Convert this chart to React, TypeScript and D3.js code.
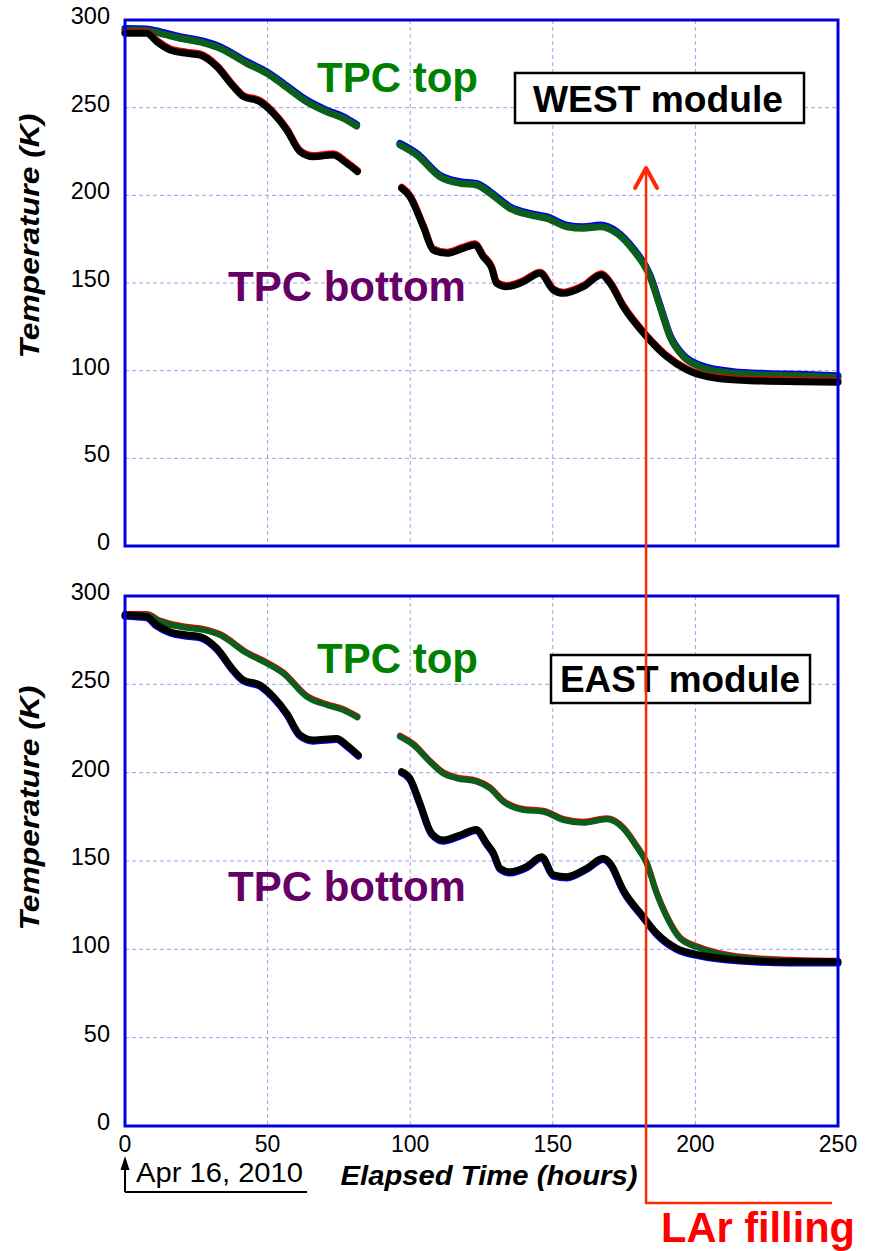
import React from "react";
import * as d3 from "d3";

type Pt = [number, number] | null;

// West module, TPC top (hours, K); null = data gap
const westTop: Pt[] = [
  [0, 294.3], [7.6, 294], [12.3, 292.4], [19.3, 289.6], [27.5, 287], [33.3, 283.9], [42.7, 275.3],
  [49.7, 269.6], [55.5, 263], [63.7, 253.4], [70.7, 247.7], [76.5, 244], [81.2, 239.5],
  null,
  [96.4, 228.7], [102.3, 223], [110.4, 210.6], [117.5, 206.9], [123.3, 205.9], [128, 201.2],
  [135, 192.6], [142, 188.8], [147.9, 186.9], [154.9, 182.1], [160.7, 181.2], [166.6, 182.1],
  [172.4, 178.4], [178.2, 168.8], [184.1, 153.6], [187.6, 136.5], [191.1, 119.4], [195.8, 108],
  [201.6, 102.3], [213.3, 98.5], [225, 97.5], [236.7, 97], [250, 96.2],
];

// West module, TPC bottom
const westBottom: Pt[] = [
  [0, 292.4], [7.6, 292.4], [11.1, 287.7], [15.8, 282.9], [21.6, 281], [26.3, 280], [32.2, 273.4],
  [38, 262], [41.5, 256.3], [47.3, 253.4], [52, 246.8], [56.7, 237.3], [61.4, 224.9], [66, 222],
  [73, 223], [77.7, 218.3], [81.5, 213.5],
  null,
  [97, 204], [99.9, 199.2], [104.6, 182.1], [108.1, 168.8], [112.8, 166.9], [118.6, 169.8],
  [122.7, 171.7], [125.6, 165], [128.6, 158.4], [130.3, 149.8], [133.8, 147.9], [139.7, 150.7],
  [145.5, 155.5], [150.2, 146], [153.7, 144.1], [160.7, 147.9], [167.1, 154.6], [170.1, 149.8],
  [174.7, 136.5], [182.9, 119.4], [189.9, 108], [197, 100.4], [207.5, 95.6], [219.1, 94.3],
  [236.7, 93.7], [250, 93.4],
];

// East module, TPC top
const eastTop: Pt[] = [
  [0, 289.2], [7.6, 289.2], [12.3, 285.5], [19.3, 282.6], [27.5, 280.8], [33.3, 277.9], [42.7, 267.6],
  [49.7, 261.9], [55.5, 256.2], [63.7, 243], [70.7, 238.3], [76.5, 235.5], [81.5, 231.3],
  null,
  [96.4, 220.4], [101.1, 215.7], [106.9, 206.2], [111.6, 199.6], [116.3, 196.8], [123.3, 194.9],
  [128, 191.1], [132.6, 183.6], [139.7, 178.9], [146.7, 177.9], [153.7, 173.2], [160.7, 171.7],
  [168.9, 173.6], [174.7, 168.5], [179.4, 158.1], [182.9, 148.7], [186.4, 131.7], [189.9, 118.5],
  [194.6, 106.2], [201.6, 100.6], [209.8, 96.8], [221.5, 94.4], [233.2, 93.6], [250, 93],
];

// East module, TPC bottom
const eastBottom: Pt[] = [
  [0, 289.2], [7.6, 288.3], [11.1, 283.6], [15.8, 279.8], [21.6, 277.9], [26.3, 277], [32.2, 270.4],
  [38, 258.1], [41.5, 252.5], [47.3, 249.6], [52, 243], [56.7, 233.6], [61.4, 221.3], [66, 218.5],
  [74.2, 219.4], [77.7, 215.7], [81.8, 210],
  null,
  [97, 200.6], [99.9, 196.8], [103.4, 182.7], [107.5, 165.7], [111.6, 161.9], [117.5, 164.7],
  [123.1, 167.9], [126.8, 160], [129.2, 154.4], [131.5, 145.9], [135, 143.9], [140.8, 146.8],
  [146.1, 152.4], [150.2, 142.1], [154.9, 141.1], [161.9, 145.9], [167.7, 151.5], [170.1, 148.7],
  [174.7, 133.6], [181.7, 118.5], [186.4, 109.1], [193.4, 100.6], [201.6, 96.8], [215.6, 94],
  [233.2, 93], [250, 93],
];

const xTicks = [0, 50, 100, 150, 200, 250];
const yTicks = [0, 50, 100, 150, 200, 250, 300];
const lArFillingTime = 182.7; // hours

const FONT = "'Liberation Sans', Arial, Helvetica, sans-serif";
const GRID = "#a0a0ee";
const FRAME = "#0000dd";
const RED = "#ff2a00";
const LINE_GREEN = "#0b5e1c";

const x = d3.scaleLinear().domain([0, 250]).range([125, 838]);

type PanelProps = {
  top: number;
  bottom: number;
  topSeries: Pt[];
  bottomSeries: Pt[];
  topEdge: string;
  bottomEdge: string;
  topEdgeDy: number;
  bottomEdgeDy: number;
  topWidth: number;
  label: string;
  labelBox: [number, number, number, number];
  labelX: number;
  labelY: number;
  labelLen: number;
  tpcTopY: number;
  tpcBottomY: number;
  titleY: number;
};

function Panel(p: PanelProps) {
  const y = d3.scaleLinear().domain([0, 300]).range([p.bottom, p.top]);
  const line = d3
    .line<Pt>()
    .defined((d) => d !== null)
    .x((d) => x((d as [number, number])[0]))
    .y((d) => y((d as [number, number])[1]))
    .curve(d3.curveMonotoneX);
  const topPath = line(p.topSeries) || "";
  const botPath = line(p.bottomSeries) || "";
  return (
    <g>
      {/* grid */}
      {xTicks.slice(1, -1).map((t) => (
        <line key={"gx" + t} x1={x(t)} x2={x(t)} y1={p.top} y2={p.bottom} stroke={GRID} strokeWidth={1} strokeDasharray="4,3" />
      ))}
      {yTicks.slice(1, -1).map((t) => (
        <line key={"gy" + t} x1={x(0)} x2={x(250)} y1={y(t)} y2={y(t)} stroke={GRID} strokeWidth={1} strokeDasharray="4,3" />
      ))}
      {/* y tick labels */}
      {yTicks.map((t) => (
        <text key={"yl" + t} x={110} y={y(t) + 4} textAnchor="end" fontFamily={FONT} fontSize={23.5} fill="#000">
          {t}
        </text>
      ))}
      {/* y title */}
      <text
        transform={`translate(39,${p.titleY}) rotate(-90)`}
        textAnchor="middle"
        fontFamily={FONT}
        fontSize={28}
        fontWeight="bold"
        fontStyle="italic"
        fill="#000"
        textLength={245}
        lengthAdjust="spacingAndGlyphs"
      >
        Temperature (K)
      </text>
      {/* series */}
      <g fill="none" strokeLinecap="round" strokeLinejoin="round">
        <path d={topPath} stroke={p.topEdge} strokeWidth={p.topWidth} transform={`translate(0,${p.topEdgeDy})`} />
        <path d={topPath} stroke={LINE_GREEN} strokeWidth={p.topWidth} />
        <path d={botPath} stroke={p.bottomEdge} strokeWidth={7} transform={`translate(0,${p.bottomEdgeDy})`} />
        <path d={botPath} stroke="#000" strokeWidth={7} />
      </g>
      {/* frame */}
      <rect x={x(0)} y={p.top} width={x(250) - x(0)} height={p.bottom - p.top} fill="none" stroke={FRAME} strokeWidth={3} />
      {/* annotations */}
      <text x={317} y={p.tpcTopY} fontFamily={FONT} fontSize={42} fontWeight="bold" fill="#008000">
        TPC top
      </text>
      <text x={228} y={p.tpcBottomY} fontFamily={FONT} fontSize={42} fontWeight="bold" fill="#660066">
        TPC bottom
      </text>
      <rect x={p.labelBox[0]} y={p.labelBox[1]} width={p.labelBox[2]} height={p.labelBox[3]} fill="#fff" stroke="#000" strokeWidth={2.5} />
      <text x={p.labelX} y={p.labelY} fontFamily={FONT} fontSize={37} fontWeight="bold" fill="#000" textLength={p.labelLen} lengthAdjust="spacingAndGlyphs">
        {p.label}
      </text>
    </g>
  );
}

export default function App() {
  const xr = x(lArFillingTime);
  const axisY = 1126;
  return (
    <svg width={871} height={1251} style={{ position: "absolute", left: 0, top: 0, background: "#fff" }}>
      <rect x={0} y={0} width={871} height={1251} fill="#fff" />
      <Panel
        top={20}
        bottom={546}
        topSeries={westTop}
        bottomSeries={westBottom}
        topEdge="#0000ee"
        bottomEdge="#ee0000"
        topEdgeDy={-1.6}
        bottomEdgeDy={-1.2}
        topWidth={7}
        label="WEST module"
        labelBox={[515, 73, 289, 50]}
        labelX={533}
        labelY={112}
        labelLen={250}
        tpcTopY={92}
        tpcBottomY={301}
        titleY={236}
      />
      <Panel
        top={596}
        bottom={axisY}
        topSeries={eastTop}
        bottomSeries={eastBottom}
        topEdge="#ee0000"
        bottomEdge="#0000ee"
        topEdgeDy={-1}
        bottomEdgeDy={1.2}
        topWidth={6}
        label="EAST module"
        labelBox={[551, 655, 259, 48]}
        labelX={560}
        labelY={692}
        labelLen={240}
        tpcTopY={673}
        tpcBottomY={901}
        titleY={808}
      />
      {/* x tick labels */}
      {xTicks.map((t) => (
        <text key={"xl" + t} x={x(t)} y={1152} textAnchor="middle" fontFamily={FONT} fontSize={23} fill="#000">
          {t}
        </text>
      ))}
      <text x={489} y={1185} textAnchor="middle" fontFamily={FONT} fontSize={28} fontWeight="bold" fontStyle="italic" fill="#000" textLength={297} lengthAdjust="spacingAndGlyphs">
        Elapsed Time (hours)
      </text>
      {/* Apr 16 marker */}
      <line x1={x(0)} x2={307} y1={1192} y2={1192} stroke="#000" strokeWidth={2} />
      <line x1={x(0)} x2={x(0)} y1={1192} y2={1162} stroke="#000" strokeWidth={2} />
      <path d={`M${x(0) - 4.5},${1170} L${x(0)},${1156} L${x(0) + 4.5},${1170} Z`} fill="#000" />
      <text x={136} y={1182} fontFamily={FONT} fontSize={28} fill="#000" textLength={167} lengthAdjust="spacingAndGlyphs">
        Apr 16, 2010
      </text>
      {/* LAr filling marker */}
      <g stroke={RED} fill="none">
        <polyline points={`${xr},168 ${xr},1203 832,1203`} strokeWidth={2.5} />
        <polyline points={`${xr - 11},188 ${xr},168 ${xr + 11},188`} strokeWidth={4} strokeLinecap="round" strokeLinejoin="round" />
      </g>
      <text x={661} y={1242} fontFamily={FONT} fontSize={42} fontWeight="bold" fill="#ff0000" textLength={194} lengthAdjust="spacingAndGlyphs">
        LAr filling
      </text>
    </svg>
  );
}
